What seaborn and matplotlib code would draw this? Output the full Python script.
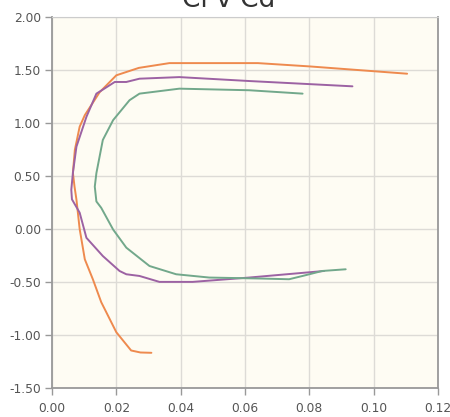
import numpy as np
import pandas as pd
import matplotlib
matplotlib.use("Agg")
import matplotlib.pyplot as plt
import seaborn as sns

# ---- data ----
orange_x = [0.1104, 0.0800, 0.0640, 0.0365, 0.0270, 0.0200, 0.0148, 0.0102, 0.0086, 0.0071,
            0.0065, 0.0070, 0.0076, 0.0086, 0.0102, 0.0127, 0.0153, 0.0200, 0.0246, 0.0275, 0.0309]
orange_y = [1.465, 1.534, 1.565, 1.565, 1.520, 1.450, 1.290, 1.074, 0.965, 0.746,
            0.530, 0.400, 0.277, 0.000, -0.286, -0.474, -0.690, -0.974, -1.146, -1.165, -1.168]

purple_x = [0.0934, 0.0613, 0.0396, 0.0272, 0.0231, 0.0195, 0.0158, 0.0138, 0.0107, 0.0076,
            0.0065, 0.0060, 0.0062, 0.0086, 0.0107, 0.0158, 0.0210, 0.0231, 0.0272, 0.0334,
            0.0437, 0.0613, 0.0846]
purple_y = [1.346, 1.396, 1.433, 1.418, 1.387, 1.387, 1.315, 1.277, 1.058, 0.777,
            0.530, 0.370, 0.280, 0.154, -0.083, -0.255, -0.396, -0.427, -0.443, -0.499,
            -0.499, -0.458, -0.396]

green_x = [0.0779, 0.0613, 0.0396, 0.0272, 0.0241, 0.0190, 0.0158, 0.0138, 0.0133, 0.0138,
           0.0153, 0.0190, 0.0231, 0.0303, 0.0386, 0.0489, 0.0644, 0.0737, 0.0779, 0.0840, 0.0913]
green_y = [1.277, 1.309, 1.324, 1.277, 1.215, 1.027, 0.840, 0.527, 0.400, 0.260,
           0.200, -0.005, -0.176, -0.349, -0.427, -0.458, -0.467, -0.474, -0.443, -0.396, -0.380]

x_ticks = [0.00, 0.02, 0.04, 0.06, 0.08, 0.10, 0.12]
y_ticks = [-1.50, -1.00, -0.50, 0.00, 0.50, 1.00, 1.50, 2.00]
title = "Cl v Cd"

series = {"orange": (orange_x, orange_y),
          "purple": (purple_x, purple_y),
          "green": (green_x, green_y)}
frames = []
for name, (xs, ys) in series.items():
    frames.append(pd.DataFrame({"Cd": xs, "Cl": ys, "series": name,
                                "order": np.arange(len(xs))}))
df = pd.concat(frames, ignore_index=True)

palette = {"orange": "#ee8a4e", "purple": "#9c62a3", "green": "#72a88b"}

sns.set_style("white")
plt.rcParams['font.family'] = ['DejaVu Sans']

fig = plt.figure(figsize=(4.5, 4.17), dpi=100)
fig.patch.set_facecolor("white")
ax = fig.add_axes([52 / 450, 29 / 417, 386 / 450, 371 / 417])
ax.set_facecolor("#fefcf3")

sns.lineplot(data=df, x="Cd", y="Cl", hue="series", palette=palette, sort=False,
             estimator=None, units="series", linewidth=1.4, legend=False, ax=ax, zorder=3)

ax.set_xlim(0, 0.12)
ax.set_ylim(-1.5, 2.0)
ax.set_xticks(x_ticks)
ax.set_yticks(y_ticks)
ax.set_xticklabels([f"{v:.2f}" for v in x_ticks])
ax.set_yticklabels([f"{v:.2f}" for v in y_ticks])
ax.grid(True, color="#dddbd6", linewidth=1.0, zorder=0)
ax.set_axisbelow(True)
ax.set_xlabel("")
ax.set_ylabel("")

for side in ["left", "bottom", "right", "top"]:
    ax.spines[side].set_visible(True)
    ax.spines[side].set_color("#999999")
    ax.spines[side].set_linewidth(1.3)
ax.spines["top"].set_color("#cccccc")
ax.spines["top"].set_linewidth(0.8)

ax.tick_params(axis="both", which="both", direction="out", length=5, width=1,
               color="#999999", labelcolor="#555555", labelsize=8.8, pad=3,
               left=True, bottom=True)
ax.tick_params(axis="x", pad=5)

fig.text(229 / 450, 1 - 7 / 417, title, ha="center", va="baseline",
         fontsize=19, color="#333333")

fig.savefig("out.png", dpi=100, facecolor="white")
